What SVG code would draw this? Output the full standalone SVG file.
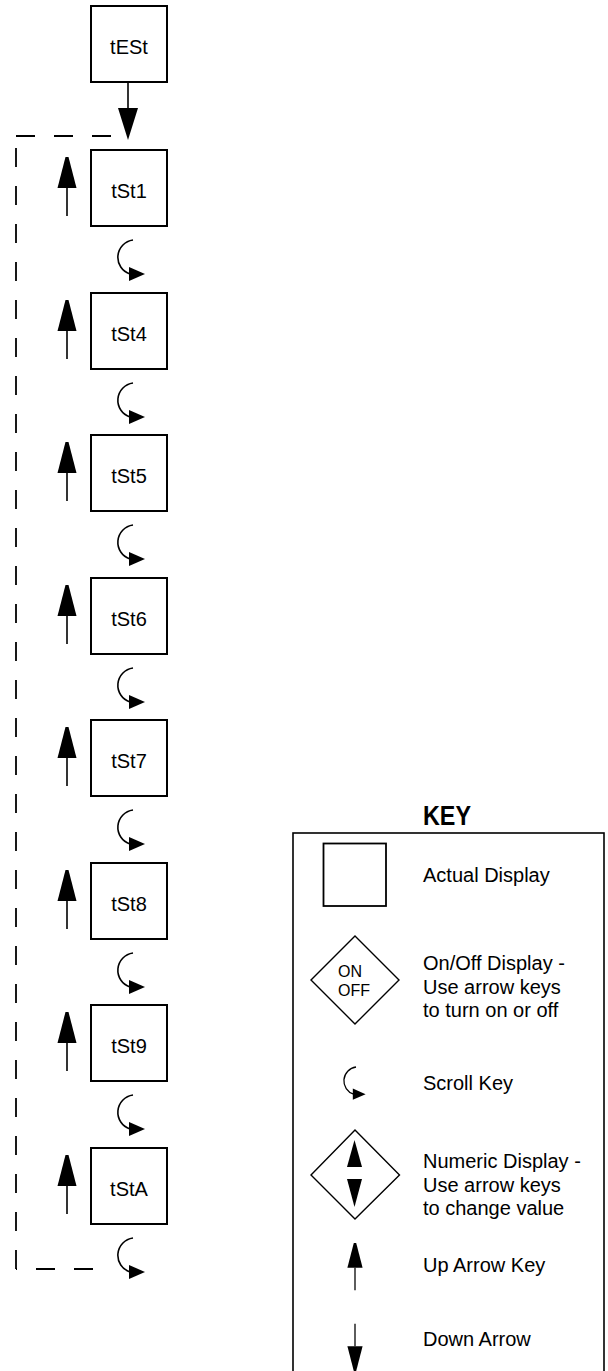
<svg xmlns="http://www.w3.org/2000/svg" xmlns:xlink="http://www.w3.org/1999/xlink" width="608" height="1371" viewBox="0 0 608 1371">
<style>
.box{fill:#fff;stroke:#000;stroke-width:2}
.lbl{font-family:"Liberation Sans",Arial,sans-serif;font-size:20px;fill:#000;text-anchor:middle}
.ktxt{font-family:"Liberation Sans",Arial,sans-serif;font-size:20px;fill:#000}
.small{font-family:"Liberation Sans",Arial,sans-serif;font-size:16px;fill:#000}
.dash{fill:none;stroke:#000;stroke-width:1.8;stroke-dasharray:19 19}
.ln{fill:none;stroke:#000;stroke-width:1.6}
.dia{fill:#fff;stroke:#000;stroke-width:1.4}
</style>
<defs>
<g id="scroll"><path d="M0 0 A17.5 17.5 0 0 0 -3 34" class="ln"/><polygon points="-4,27 -4,41 12,34" fill="#000"/></g>
<g id="uparrow"><polygon points="-1.5,0 1.5,0 9.5,31 -9.5,31" fill="#000"/><line x1="0" y1="31" x2="0" y2="59" class="ln"/></g>
</defs>
<rect width="608" height="1371" fill="#fff"/>

<g id="connectors">
<line x1="128" y1="82" x2="128" y2="109" class="ln"/>
<polygon points="118,108 138,108 128,140" fill="#000"/>
<path d="M16 136 H112" class="dash"/>
<path d="M16 148 V1269" class="dash"/>
<path d="M93 1269 H16" class="dash"/>
<use xlink:href="#scroll" href="#scroll" x="133" y="240"/>
<use xlink:href="#scroll" href="#scroll" x="133" y="383"/>
<use xlink:href="#scroll" href="#scroll" x="133" y="525"/>
<use xlink:href="#scroll" href="#scroll" x="133" y="668"/>
<use xlink:href="#scroll" href="#scroll" x="133" y="810"/>
<use xlink:href="#scroll" href="#scroll" x="133" y="953"/>
<use xlink:href="#scroll" href="#scroll" x="133" y="1095"/>
<use xlink:href="#scroll" href="#scroll" x="133" y="1238"/>
<use xlink:href="#uparrow" href="#uparrow" x="67" y="157"/>
<use xlink:href="#uparrow" href="#uparrow" x="67" y="300"/>
<use xlink:href="#uparrow" href="#uparrow" x="67" y="442"/>
<use xlink:href="#uparrow" href="#uparrow" x="67" y="585"/>
<use xlink:href="#uparrow" href="#uparrow" x="67" y="727"/>
<use xlink:href="#uparrow" href="#uparrow" x="67" y="870"/>
<use xlink:href="#uparrow" href="#uparrow" x="67" y="1012"/>
<use xlink:href="#uparrow" href="#uparrow" x="67" y="1155"/>
</g>

<g id="node-tESt"><rect class="box" x="91" y="6" width="76" height="76"/><text class="lbl" x="129" y="54">tESt</text></g>
<g id="node-tSt1"><rect class="box" x="91" y="150" width="76" height="76"/><text class="lbl" x="129" y="198">tSt1</text></g>
<g id="node-tSt4"><rect class="box" x="91" y="293" width="76" height="76"/><text class="lbl" x="129" y="341">tSt4</text></g>
<g id="node-tSt5"><rect class="box" x="91" y="435" width="76" height="76"/><text class="lbl" x="129" y="483">tSt5</text></g>
<g id="node-tSt6"><rect class="box" x="91" y="578" width="76" height="76"/><text class="lbl" x="129" y="626">tSt6</text></g>
<g id="node-tSt7"><rect class="box" x="91" y="720" width="76" height="76"/><text class="lbl" x="129" y="768">tSt7</text></g>
<g id="node-tSt8"><rect class="box" x="91" y="863" width="76" height="76"/><text class="lbl" x="129" y="911">tSt8</text></g>
<g id="node-tSt9"><rect class="box" x="91" y="1005" width="76" height="76"/><text class="lbl" x="129" y="1053">tSt9</text></g>
<g id="node-tStA"><rect class="box" x="91" y="1148" width="76" height="76"/><text class="lbl" x="129" y="1196">tStA</text></g>

<g id="key">
<text x="423" y="825" font-family="'Liberation Sans Narrow','Liberation Sans',Arial,sans-serif" font-size="28" font-weight="bold" textLength="48" lengthAdjust="spacingAndGlyphs">KEY</text>
<rect x="293" y="833" width="311" height="545" fill="none" stroke="#000" stroke-width="1.6"/>
<rect x="323.5" y="843.5" width="62.5" height="62.5" fill="none" stroke="#000" stroke-width="1.8"/>
<text class="ktxt" x="423" y="882">Actual Display</text>
<polygon class="dia" points="355,936 399,980 355,1024 311,980"/>
<text class="small" x="338" y="977">ON</text>
<text class="small" x="338" y="996">OFF</text>
<text class="ktxt" x="423" y="970">On/Off Display -</text>
<text class="ktxt" x="423" y="993.5">Use arrow keys</text>
<text class="ktxt" x="423" y="1017">to turn on or off</text>
<use xlink:href="#scroll" href="#scroll" transform="translate(356,1067) scale(0.8)"/>
<text class="ktxt" x="423" y="1090">Scroll Key</text>
<polygon class="dia" points="355,1130 399.5,1175 355,1219 311,1175"/>
<polygon points="354.5,1140 362,1167 347,1167" fill="#000"/>
<polygon points="347,1179 362,1179 354.5,1207" fill="#000"/>
<text class="ktxt" x="423" y="1168">Numeric Display -</text>
<text class="ktxt" x="423" y="1191.5">Use arrow keys</text>
<text class="ktxt" x="423" y="1215">to change value</text>
<use xlink:href="#uparrow" href="#uparrow" transform="translate(355,1243) scale(0.8)"/>
<text class="ktxt" x="423" y="1272">Up Arrow Key</text>
<use xlink:href="#uparrow" href="#uparrow" transform="translate(355,1371) scale(0.8) rotate(180)"/>
<text class="ktxt" x="423" y="1346">Down Arrow</text>
</g>
</svg>
